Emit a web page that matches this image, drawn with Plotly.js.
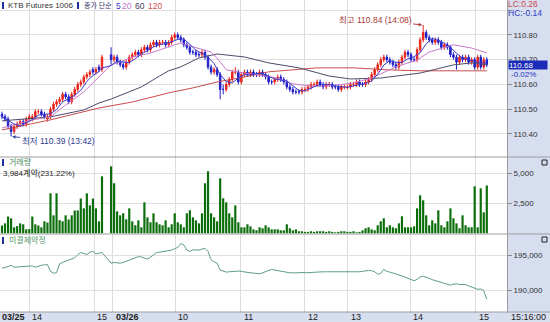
<!DOCTYPE html>
<html><head><meta charset="utf-8">
<script src="https://cdn.plot.ly/plotly-3.0.1.min.js"></script>
<style>html,body{margin:0;padding:0;background:#d6def0;}#chart{width:550px;height:322px;}</style>
</head><body><div id="chart"></div>
<script>
// ---------- DATA (3-minute bars, KTB Futures 1006) ----------
// Day 1 (03/25 afternoon)
const open1  = [110.48,110.47,110.46,110.43,110.41,110.43,110.44,110.45,110.44,110.46,110.46,110.47,110.49,110.49,110.48,110.46,110.47,110.50,110.52,110.53,110.54,110.56,110.55,110.53,110.56,110.58,110.60,110.61,110.63,110.64,110.66,110.65,110.67,110.66];
const high1  = [110.49,110.48,110.47,110.44,110.44,110.45,110.46,110.46,110.47,110.48,110.48,110.50,110.50,110.50,110.49,110.48,110.51,110.53,110.54,110.55,110.57,110.57,110.56,110.57,110.59,110.61,110.62,110.64,110.65,110.66,110.67,110.67,110.68,110.72];
const low1   = [110.46,110.45,110.42,110.39,110.40,110.42,110.43,110.43,110.43,110.45,110.45,110.46,110.48,110.47,110.46,110.45,110.46,110.49,110.51,110.52,110.53,110.54,110.52,110.52,110.55,110.57,110.59,110.60,110.62,110.63,110.64,110.64,110.65,110.65];
const close1 = [110.47,110.46,110.43,110.41,110.43,110.44,110.45,110.44,110.46,110.47,110.47,110.49,110.49,110.48,110.47,110.47,110.50,110.52,110.53,110.54,110.56,110.55,110.53,110.56,110.58,110.60,110.61,110.63,110.64,110.65,110.65,110.66,110.66,110.71];
const vol1   = [650,830,1400,1250,500,600,830,750,330,350,1400,750,650,500,1000,900,3330,1500,3330,1100,1000,1500,1150,1500,1900,1900,2900,2080,3330,2330,2900,2080,1000,4750];
const oi1    = [193160,193250,193400,193600,193300,193350,193400,193400,193450,193450,193500,193300,193500,193600,193650,193700,192700,192450,192500,193800,194000,194200,194350,194550,194700,195100,195450,195300,195150,195500,195600,195250,195400,195450];
// Day 2 (03/26)
const open2 = [110.72,110.70,110.71,110.69,110.68,110.67,110.69,110.71,110.72,110.73,
110.72,110.74,110.75,110.74,110.76,110.77,110.76,110.77,110.77,110.76,
110.77,110.79,110.80,110.79,110.78,110.76,110.75,110.73,110.73,110.72,
110.72,110.73,110.71,110.67,110.65,110.66,110.64,110.58,110.58,110.60,
110.62,110.65,110.65,110.61,110.64,110.65,110.64,110.65,110.64,110.64,
110.65,110.64,110.63,110.61,110.61,110.62,110.63,110.62,110.61,110.59,
110.58,110.57,110.57,110.57,110.58,110.58,110.59,110.60,110.60,110.61,
110.60,110.59,110.60,110.60,110.59,110.59,110.58,110.59,110.59,110.59,
110.60,110.60,110.61,110.60,110.60,110.61,110.62,110.64,110.66,110.68,
110.70,110.71,110.70,110.69,110.68,110.67,110.69,110.71,110.73,110.72,
110.70,110.70,110.74,110.78,110.81,110.79,110.78,110.77,110.78,110.77,
110.75,110.76,110.75,110.72,110.71,110.69,110.71,110.70,110.71,110.69,
110.70,110.67,110.71,110.67,110.70];
const high2 = [110.75,110.72,110.72,110.70,110.69,110.70,110.72,110.73,110.74,110.74,
110.75,110.76,110.76,110.77,110.78,110.78,110.78,110.78,110.78,110.78,
110.80,110.81,110.81,110.80,110.79,110.77,110.76,110.74,110.74,110.73,
110.74,110.74,110.72,110.68,110.67,110.67,110.65,110.60,110.61,110.63,
110.66,110.67,110.66,110.65,110.66,110.66,110.66,110.66,110.65,110.66,
110.66,110.65,110.64,110.62,110.63,110.64,110.64,110.63,110.62,110.60,
110.59,110.58,110.58,110.59,110.59,110.60,110.61,110.61,110.62,110.62,
110.61,110.61,110.61,110.61,110.60,110.60,110.60,110.60,110.60,110.61,
110.61,110.62,110.62,110.61,110.62,110.63,110.65,110.67,110.69,110.71,
110.72,110.72,110.71,110.70,110.69,110.70,110.72,110.74,110.74,110.73,
110.71,110.75,110.79,110.84,110.82,110.80,110.79,110.79,110.79,110.78,
110.77,110.77,110.76,110.73,110.72,110.72,110.72,110.72,110.72,110.71,
110.71,110.72,110.72,110.71,110.71];
const low2 = [110.68,110.69,110.68,110.67,110.66,110.66,110.68,110.70,110.71,110.71,
110.71,110.73,110.73,110.73,110.75,110.75,110.75,110.76,110.75,110.75,
110.76,110.78,110.78,110.77,110.75,110.74,110.72,110.72,110.71,110.71,
110.71,110.70,110.66,110.64,110.64,110.63,110.54,110.56,110.57,110.59,
110.61,110.64,110.60,110.60,110.63,110.63,110.63,110.63,110.63,110.63,
110.63,110.62,110.60,110.60,110.60,110.61,110.61,110.60,110.58,110.57,
110.56,110.56,110.56,110.56,110.57,110.57,110.58,110.59,110.59,110.59,
110.58,110.58,110.59,110.58,110.58,110.57,110.57,110.58,110.58,110.58,
110.59,110.59,110.59,110.59,110.59,110.60,110.61,110.63,110.65,110.67,
110.69,110.69,110.68,110.67,110.66,110.66,110.68,110.70,110.71,110.69,
110.69,110.69,110.73,110.77,110.78,110.77,110.76,110.76,110.76,110.74,
110.74,110.74,110.71,110.70,110.66,110.68,110.69,110.69,110.68,110.68,
110.66,110.66,110.66,110.66,110.67];
const close2 = [110.70,110.71,110.69,110.68,110.67,110.69,110.71,110.72,110.73,110.72,
110.74,110.75,110.74,110.76,110.77,110.76,110.77,110.77,110.76,110.77,
110.79,110.80,110.79,110.78,110.76,110.75,110.73,110.73,110.72,110.72,
110.73,110.71,110.67,110.65,110.66,110.64,110.58,110.58,110.60,110.62,
110.65,110.65,110.61,110.64,110.65,110.64,110.65,110.64,110.64,110.65,
110.64,110.63,110.61,110.61,110.62,110.63,110.62,110.61,110.59,110.58,
110.57,110.57,110.57,110.58,110.58,110.59,110.60,110.60,110.61,110.60,
110.59,110.60,110.60,110.59,110.59,110.58,110.59,110.59,110.59,110.60,
110.60,110.61,110.60,110.60,110.61,110.62,110.64,110.66,110.68,110.70,
110.71,110.70,110.69,110.68,110.67,110.69,110.71,110.73,110.72,110.70,
110.70,110.74,110.78,110.81,110.79,110.78,110.77,110.78,110.77,110.75,
110.76,110.75,110.72,110.71,110.69,110.71,110.70,110.71,110.69,110.70,
110.67,110.71,110.67,110.70,110.68];
const vol2 = [5580,4170,1830,1500,1670,1170,2080,1000,670,1080,
500,2580,1330,920,1670,920,750,670,1080,500,
750,1670,920,750,500,1670,1920,1330,1080,830,
1670,4170,5170,1670,1330,1000,4580,2920,2580,1670,
1330,2330,920,500,500,750,580,330,250,500,
420,670,500,330,330,330,250,250,750,420,
250,330,170,170,120,120,170,120,170,170,
170,120,170,120,80,120,170,170,120,120,
170,80,120,250,420,500,330,250,670,1000,
1250,500,670,500,420,830,1420,500,500,500,
580,2080,3170,2750,1500,670,1080,830,1920,670,
500,1000,2080,1250,830,420,1500,670,500,500,
3920,500,3750,1750,3984];
const oi2 = [193900,194000,193950,193900,194000,194150,194350,194550,194700,194850,
194800,194600,194500,194750,195100,195450,195500,195550,195650,195700,
195800,196000,196200,196750,196550,195800,195600,195850,195850,195800,
195950,196050,195600,194400,194100,193900,192900,192750,192600,192650,
192700,192750,192750,192700,192600,192550,192500,192450,192400,192350,
192500,192650,192800,193000,192900,192800,192700,192650,192550,192500,
192500,192450,192500,192550,192500,192500,192550,192600,192600,192600,
192650,192650,192650,192650,192600,192600,192600,192600,192600,192550,
192600,192600,192650,192700,192800,192850,192800,192650,192300,192400,
193000,192700,192600,192500,192350,192200,192050,191850,191700,191500,
191350,191550,191900,192000,191900,191700,191500,191350,191200,191050,
190900,190800,190700,190850,190900,190800,190750,190800,190600,190450,
190200,190100,190150,189900,188650];
const day2StartSlot = 36;

// Moving averages (bar slot, value)
const ma5Slot = [0,2,4,6,8,10,12,14,16,18,20,22,24,26,28,30,32,33,36,38,40,42,44,46,48,50,52,54,56,58,60,62,64,66,68,70,72,74,76,78,80,82,84,86,88,90,92,94,96,98,100,102,104,106,108,110,112,114,116,118,120,122,124,126,128,130,132,134,136,138,140,142,144,146,148,150,152,154,156,158,160];
const ma5Val  = [110.470,110.455,110.440,110.432,110.444,110.458,110.476,110.480,110.482,110.498,110.530,110.542,110.556,110.576,110.612,110.636,110.652,110.666,110.676,110.694,110.690,110.688,110.704,110.724,110.736,110.752,110.760,110.766,110.772,110.782,110.784,110.762,110.738,110.726,110.710,110.684,110.640,110.612,110.606,110.626,110.640,110.638,110.644,110.644,110.634,110.622,110.618,110.614,110.594,110.576,110.574,110.584,110.596,110.600,110.600,110.594,110.590,110.588,110.594,110.600,110.604,110.614,110.642,110.678,110.696,110.690,110.688,110.704,110.712,110.728,110.764,110.786,110.778,110.766,110.750,110.726,110.706,110.700,110.694,110.688,110.686];
const ma20Slot = [0,10,16,21,27,33,36,39,43,49,55,59,63,69,71,74,80,85,91,96,102,108,116,122,130,137,141,149,155,160];
const ma20Val  = [110.424,110.457,110.469,110.517,110.570,110.642,110.679,110.691,110.711,110.727,110.752,110.768,110.752,110.731,110.707,110.659,110.646,110.638,110.626,110.602,110.594,110.594,110.606,110.626,110.671,110.699,110.731,110.760,110.747,110.727];
const ma60Slot = [0,16,27,32,36,46,52,55,59,65,71,80,88,98,108,115,125,138,145,149,155,160];
const ma60Val  = [110.453,110.469,110.497,110.525,110.541,110.590,110.634,110.655,110.671,110.707,110.723,110.711,110.687,110.667,110.634,110.622,110.626,110.646,110.667,110.679,110.687,110.679];
const ma120Slot = [0,16,32,43,55,63,71,80,88,96,104,116,127,138,149,160];
const ma120Val  = [110.416,110.457,110.505,110.529,110.566,110.586,110.610,110.630,110.651,110.659,110.667,110.667,110.659,110.655,110.655,110.655];

// Axis tick labels
const xGridSlots = [9.0,30.5,36.5,57.1,78.8,100.0,114.1,134.7,156.3];
const xGridText  = ['14','15','<b>03/26</b>','10','11','12','13','14','15'];
const firstDate = '<b>03/25</b>';
const clockText = '15:16:00';
const priceTicks = [110.4,110.5,110.6,110.7,110.8,110.9];
const priceTickText = ['110.40','110.50','110.60','110.70','110.80',''];
const volTicks = [2500,5000];
const volTickText = ['2,500','5,000'];
const oiTicks = [190000,195000];
const oiTickText = ['190,000','195,000'];

// ---------- BUILD ----------
const slots = [];
close1.forEach((_, i) => slots.push(i));
close2.forEach((_, i) => slots.push(day2StartSlot + i));
const O = open1.concat(open2), Hh = high1.concat(high2), L = low1.concat(low2), C = close1.concat(close2);
const V = vol1.concat(vol2), OI = oi1.concat(oi2);

const PW = 507, PH = 312;
const px = x => x / PW;
const py = y => (PH - y) / PH;
const FONT = 'Liberation Sans, Arial, Noto Sans CJK KR, sans-serif';

const traces = [
  {type:'candlestick', x:slots, open:O, high:Hh, low:L, close:C, xaxis:'x', yaxis:'y',
   increasing:{line:{color:'#e8261c', width:1}, fillcolor:'#e8261c'},
   decreasing:{line:{color:'#1e1ec8', width:1}, fillcolor:'#1e1ec8'},
   whiskerwidth:0, hoverinfo:'skip'},
  {type:'scatter', mode:'lines', x:ma120Slot, y:ma120Val, line:{color:'#c84c4c', width:1}, yaxis:'y'},
  {type:'scatter', mode:'lines', x:ma60Slot, y:ma60Val, line:{color:'#4c4c6c', width:1}, yaxis:'y'},
  {type:'scatter', mode:'lines', x:ma20Slot, y:ma20Val, line:{color:'#c87ac8', width:1}, yaxis:'y'},
  {type:'scatter', mode:'lines', x:ma5Slot, y:ma5Val, line:{color:'#3a3ad0', width:1}, yaxis:'y'},
  {type:'bar', x:slots, y:V, width:0.72, marker:{color:'#0b6e0b', line:{width:0}}, xaxis:'x', yaxis:'y2'},
  {type:'scatter', mode:'lines', x:slots, y:OI, line:{color:'#5e9e7e', width:1}, xaxis:'x', yaxis:'y3'}
];

// extremes derived from data
let hiIdx = 0, loIdx = 0;
Hh.forEach((v,i)=>{ if (v > Hh[hiIdx]) hiIdx = i; });
L.forEach((v,i)=>{ if (v < L[loIdx]) loIdx = i; });
const lastClose = C[C.length-1];

const yCommon = {side:'right', showgrid:true, gridcolor:'#e0e0e0', gridwidth:1, zeroline:false,
  ticks:'outside', ticklen:4, tickcolor:'#8a8a8a', showline:true, linecolor:'#9a9a9a', mirror:true,
  tickfont:{family:FONT, size:8, color:'#333'}, fixedrange:true};

const ann = [];
function txt(x, y, text, color, size, extra){ ann.push(Object.assign({xref:'paper', yref:'paper', x:px(x), y:py(y), text:text, showarrow:false, xanchor:'left', yanchor:'middle', font:{family:FONT, size:size||8.5, color:color}}, extra||{})); }
txt(6, 5.5, 'KTB Futures 1006', '#333', 8);
txt(82, 5.5, '종가 단순', '#33336a', 7);
txt(114, 5.5, '5', '#3030c8');
txt(120, 5.5, '20', '#c070c8');
txt(133, 5.5, '60', '#404060');
txt(146, 5.5, '120', '#d05050');
txt(7, 162.5, '거래량', '#4a8a5a', 8);
txt(1, 172.5, '3,984계약(231.22%)', '#222', 8);
txt(7, 240, '미결제약정', '#5a9a70', 8);
txt(506, 4, 'LC:0.26', '#d04848', 8.5);
txt(506, 13, 'HC:-0.14', '#3040c0', 8.5);
txt(509, 74.5, '-0.02%', '#2030c0', 8);
txt(0, 317, firstDate, '#222', 9);
txt(509, 317, clockText, '#222', 9);
xGridSlots.forEach((s,i)=>ann.push({xref:'x', yref:'paper', x:s, y:py(317), text:xGridText[i], showarrow:false, xanchor:'left', yanchor:'middle', xshift:1, font:{family:FONT, size:9, color:'#222'}}));
// last price box
ann.push({xref:'paper', yref:'y', x:px(508), y:lastClose, text:lastClose.toFixed(2), showarrow:false, xanchor:'left', yanchor:'middle',
  bgcolor:'#1c2cb8', borderpad:0, font:{family:FONT, size:8, color:'#ffffff'}, width:38, height:8, align:'left'});
// high / low markers
ann.push({xref:'x', yref:'y', x:slots[hiIdx], y:Hh[hiIdx], text:'최고 '+Hh[hiIdx].toFixed(2)+' (14:08)', showarrow:true,
  ax:-48, ay:-5, arrowhead:2, arrowsize:0.7, arrowwidth:1, arrowcolor:'#b04040', standoff:1,
  font:{family:FONT, size:8.5, color:'#a83a3a'}});
ann.push({xref:'x', yref:'y', x:slots[loIdx], y:L[loIdx], text:'최저 '+L[loIdx].toFixed(2)+' (13:42)', showarrow:true,
  ax:47, ay:5, arrowhead:2, arrowsize:0.7, arrowwidth:1, arrowcolor:'#3a4aa0', standoff:1,
  font:{family:FONT, size:8.5, color:'#303a90'}});

const shapes = [];
function hline(y, color){ shapes.push({type:'line', xref:'paper', yref:'paper', x0:0, x1:px(550), y0:py(y), y1:py(y), line:{color:color, width:1}}); }
hline(157, '#9c9c9c'); hline(234, '#9c9c9c'); hline(312, '#9c9c9c');
function rect(x0,y0,x1,y1,fill,lc){ shapes.push({type:'rect', xref:'paper', yref:'paper', x0:px(x0), x1:px(x1), y0:py(y1), y1:py(y0), fillcolor:fill, line:{color:lc||fill, width:lc?1:0}}); }
rect(2,2,4,9,'#2030a0'); rect(77,2,79,9,'#2030a0');
rect(2,159,4,166,'#2030a0'); rect(2,237,4,244,'#2030a0');
rect(542,160,547,165,'#d6def0','#222'); rect(542,237,547,242,'#d6def0','#222');

const layout = {
  width:550, height:322, margin:{l:0, r:43, t:0, b:10, pad:0},
  paper_bgcolor:'#d6def0', plot_bgcolor:'#ffffff', showlegend:false, hovermode:false,
  font:{family:FONT, size:8, color:'#333'},
  xaxis:{range:[-0.66,166.67], tickvals:xGridSlots, showticklabels:false, ticks:'', showgrid:true, gridcolor:'#dcdcdc', gridwidth:1,
    zeroline:false, showline:false, rangeslider:{visible:false}, anchor:'y3', fixedrange:true},
  yaxis:Object.assign({}, yCommon, {domain:[155/312,1], range:[110.307,110.941], tickvals:priceTicks, ticktext:priceTickText}),
  yaxis2:Object.assign({}, yCommon, {domain:[78/312,155/312], range:[-58,6358], tickvals:volTicks, ticktext:volTickText}),
  yaxis3:Object.assign({}, yCommon, {domain:[0,78/312], range:[186802,198140], tickvals:oiTicks, ticktext:oiTickText}),
  annotations:ann, shapes:shapes
};
Plotly.newPlot('chart', traces, layout, {staticPlot:true, displayModeBar:false});
</script></body></html>
